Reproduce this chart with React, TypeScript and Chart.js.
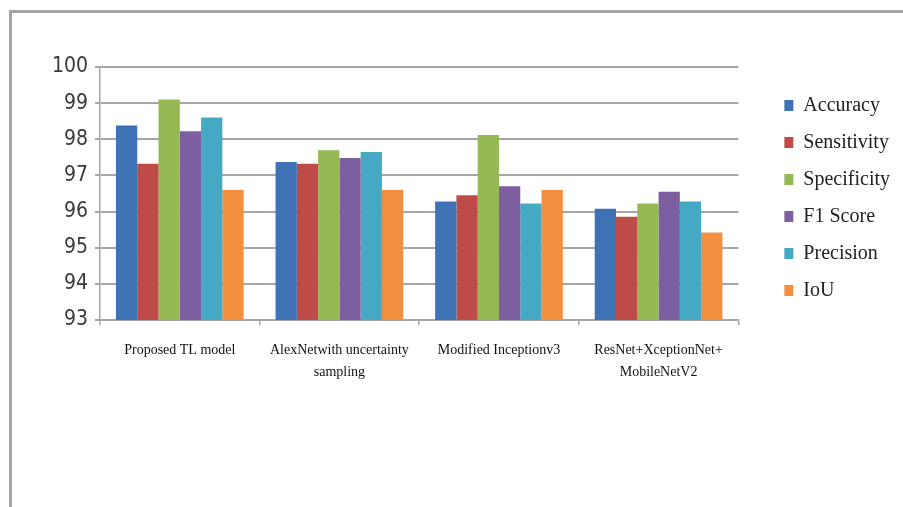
import React, { useEffect, useRef } from 'react';
import { Chart, registerables } from 'chart.js';

Chart.register(...registerables);

const categories: string[][] = [
  ['Proposed TL model'],
  ['AlexNetwith uncertainty', 'sampling'],
  ['Modified Inceptionv3'],
  ['ResNet+XceptionNet+', 'MobileNetV2'],
];

const seriesNames = ['Accuracy', 'Sensitivity', 'Specificity', 'F1 Score', 'Precision', 'IoU'];

const accuracy = [98.38, 97.37, 96.28, 96.08];
const sensitivity = [97.32, 97.32, 96.45, 95.86];
const specificity = [99.1, 97.7, 98.12, 96.22];
const f1Score = [98.22, 97.48, 96.7, 96.55];
const precision = [98.6, 97.65, 96.22, 96.28];
const iou = [96.6, 96.6, 96.6, 95.42];

const seriesColors = ['#3f72b4', '#be4b48', '#96b955', '#7c5ea1', '#46a9c4', '#f39040'];

const yMin = 93;
const yMax = 100;
const yStep = 1;

export default function App() {
  const canvasRef = useRef<HTMLCanvasElement | null>(null);

  useEffect(() => {
    if (!canvasRef.current) return;
    const values = [accuracy, sensitivity, specificity, f1Score, precision, iou];
    const chart = new Chart(canvasRef.current, {
      type: 'bar',
      data: {
        labels: categories,
        datasets: seriesNames.map((name, i) => ({
          label: name,
          data: values[i],
          backgroundColor: seriesColors[i],
          borderWidth: 0,
          barPercentage: 1,
          categoryPercentage: 0.8,
          yAxisID: 'y',
        })),
      },
      options: {
        animation: false,
        responsive: false,
        layout: { padding: { top: 67, left: 20, right: 3, bottom: 20 } },
        plugins: {
          tooltip: { enabled: false },
          legend: {
            position: 'right',
            fullSize: false,
            title: { display: true, text: '', font: { size: 1 }, padding: { top: 4, bottom: 4 } },
            labels: {
              boxWidth: 9,
              boxHeight: 11,
              padding: 17,
              color: '#222',
              font: { family: "'Liberation Serif', 'Times New Roman', serif", size: 20 },
            },
          },
        },
        scales: {
          x: {
            grid: {
              drawOnChartArea: false,
              drawTicks: true,
              tickLength: 5,
              color: '#a6a6a6',
              lineWidth: 1.5,
            },
            border: { display: true, color: '#a6a6a6', width: 1.5 },
            ticks: {
              color: '#111',
              padding: 14,
              maxRotation: 0,
              autoSkip: false,
              font: { family: "'Liberation Serif', 'Times New Roman', serif", size: 14, lineHeight: 1.6 },
            },
            afterFit: (s: any) => { s.height = 167; },
          },
          y: {
            min: yMin,
            max: yMax,
            grid: { color: '#a6a6a6', lineWidth: 2, tickLength: 5 },
            border: { display: true, color: '#a6a6a6', width: 1.5 },
            ticks: {
              stepSize: yStep,
              color: '#3a3a3a',
              padding: 7,
              font: { family: "'DejaVu Sans Condensed', 'Liberation Sans', sans-serif", size: 21 },
            },
            afterFit: (s: any) => { s.width = 80; },
          },
          pad: {
            type: 'linear',
            position: 'right',
            display: true,
            grid: { display: false },
            border: { display: false },
            ticks: { display: false },
            afterFit: (s: any) => { s.width = 29; },
          },
        },
      },
    } as any);
    return () => chart.destroy();
  }, []);

  return (
    <div style={{ position: 'fixed', left: 0, top: 0, width: 903, height: 507, background: '#fff' }}>
      <div
        style={{
          position: 'absolute',
          left: 9,
          top: 10,
          right: 0,
          bottom: 0,
          borderTop: '3px solid #a3a3a3',
          borderLeft: '3px solid #a3a3a3',
        }}
      />
      <canvas ref={canvasRef} width={903} height={507} style={{ position: 'absolute', left: 0, top: 0 }} />
    </div>
  );
}
